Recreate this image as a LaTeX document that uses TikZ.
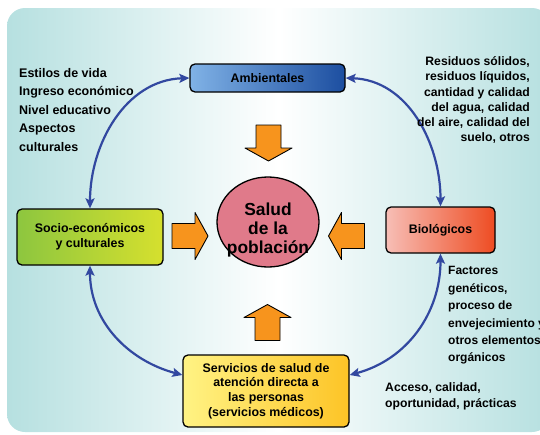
\documentclass[tikz,border=0pt]{standalone}
\usepackage{fontspec}
\setmainfont{Liberation Sans}
\usetikzlibrary{shapes,arrows.meta,positioning,calc}

\definecolor{bgteal}{RGB}{182,224,224}
\definecolor{linkblue}{RGB}{50,72,160}
\definecolor{arroworange}{RGB}{247,148,29}
\definecolor{pobpink}{RGB}{224,122,138}

\tikzset{
  factor/.style={draw=black, line width=1.3pt, rounded corners=5pt, align=center,
    inner sep=0pt, font=\fontsize{12.4}{14.6}\selectfont\bfseries},
  link/.style={draw=linkblue, line width=2.2pt,
    {Stealth[length=10pt,width=9pt,inset=2pt]}-{Stealth[length=10pt,width=9pt,inset=2pt]}},
  bigarrow/.style={fill=arroworange, draw=black, line width=0.9pt, line join=round},
  notes/.style={align=left, inner sep=0pt},
}

\begin{document}
\begin{tikzpicture}[x=1pt,y=-1pt]
            \useasboundingbox (0,0) rectangle (540,434);
            \shade[left color=bgteal, right color=bgteal, middle color=white, rounded corners=18pt] (7,8) rectangle (550,432);

            % factores
            \node[factor, left color={rgb,255:red,128;green,178;blue,230}, right color={rgb,255:red,28;green,78;blue,160},
                  minimum width=155, minimum height=28] (amb) at (267.5,78) {Ambientales};
            \node[factor, left color={rgb,255:red,141;green,198;blue,63}, right color={rgb,255:red,214;green,224;blue,46},
                  minimum width=146, minimum height=56] (soc) at (90,237) {Socio-económicos\\y culturales};
            \node[factor, left color={rgb,255:red,247;green,190;blue,182}, right color={rgb,255:red,238;green,76;blue,34},
                  minimum width=109, minimum height=46] (bio) at (440.5,230) {Biológicos};
            \node[factor, left color={rgb,255:red,255;green,243;blue,132}, right color={rgb,255:red,253;green,196;blue,38},
                  minimum width=166, minimum height=72] (serv) at (266,391) {Servicios de salud de\\atención directa a\\las personas\\(servicios médicos)};

            % centro
            \node[ellipse, draw=black, line width=1.3pt, fill=pobpink, minimum width=102, minimum height=90, inner sep=0pt] (pob) at (268,222) {};
            \node[align=center, inner sep=0pt, font=\fontsize{17.4}{18.8}\selectfont\bfseries] (pobtext) at ([yshift=-8pt]pob.center) {Salud\\de la\\población};

            \foreach \x/\y/\r in {268.5/143/-90, 267.5/322.5/90, 190/236/0, 346.5/236/180} {
                \draw[bigarrow, shift={(\x,\y)}, rotate=\r] (-18,-12.5) -- (5,-12.5) -- (5,-23.5) -- (18,0) -- (5,23.5) -- (5,12.5) -- (-18,12.5) -- cycle;
            }

            % relaciones
            \draw[link] (amb.west) to[out=182,in=90] (soc.north);
            \draw[link] (amb.east) to[out=-2,in=90] (bio.north);
            \draw[link] (soc.south) to[out=270,in=165] ([yshift=16pt]serv.west);
            \draw[link] (bio.south) to[out=270,in=15] ([yshift=16pt]serv.east);

            % notas
            \node[notes, anchor=north west, font=\fontsize{12.5}{18.5}\selectfont\bfseries] (socnotes) at (19,68)
                {Estilos de vida\\Ingreso económico\\Nivel educativo\\Aspectos\\culturales};
            \node[notes, align=right, anchor=north east, font=\fontsize{12.2}{15.2}\selectfont\bfseries] (ambnotes) at (530,56.5)
                {Residuos sólidos,\\residuos líquidos,\\cantidad y calidad\\del agua, calidad\\del aire, calidad del\\suelo, otros};
            \node[notes, anchor=north west, font=\fontsize{12}{17.4}\selectfont\bfseries] (bionotes) at (448,266.5)
                {Factores\\genéticos,\\proceso de\\envejecimiento y\\otros elementos\\orgánicos};
            \node[notes, anchor=north west, font=\fontsize{12.2}{16}\selectfont\bfseries] (servnotes) at (385,382.5)
                {Acceso, calidad,\\oportunidad, prácticas};
        \end{tikzpicture}
\end{document}
